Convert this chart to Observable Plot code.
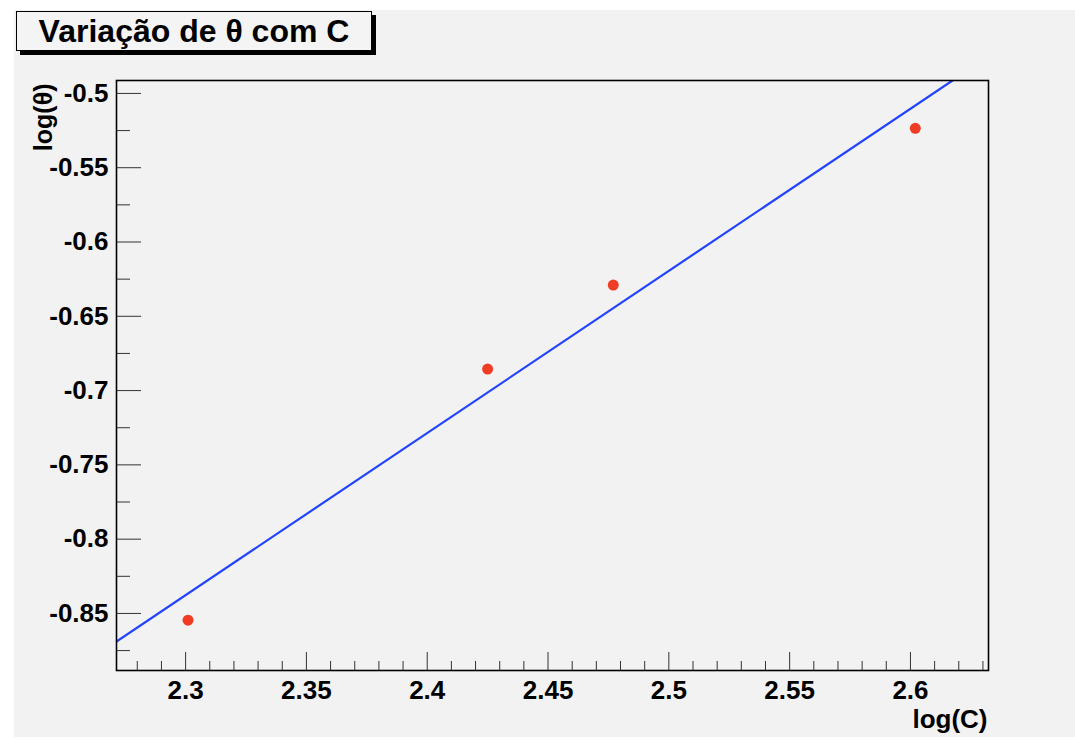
<!DOCTYPE html>
<html>
<head>
<meta charset="utf-8">
<script src="https://cdn.jsdelivr.net/npm/d3@7"></script>
<script src="https://cdn.jsdelivr.net/npm/@observablehq/plot@0.6"></script>
<style>
  html, body { margin: 0; padding: 0; background: #ffffff; }
  #wrap { position: relative; width: 1075px; height: 741px; overflow: hidden; background: #ffffff;
          font-family: "Liberation Sans", Arial, sans-serif; }
  #panel { position: absolute; left: 14px; top: 10px; width: 1061px; height: 727px; background: #f2f2f2; }
  #chart { position: absolute; left: 0; top: 0; }
  #title { position: absolute; left: 16px; top: 11px; width: 354px; height: 38px;
           border: 1.5px solid #000; background: #f4f4f4; box-shadow: 4px 4px 0 #000;
           font-weight: bold; font-size: 32px; line-height: 38px; text-align: center; color: #000;
           white-space: nowrap; }
</style>
</head>
<body>
<div id="wrap">
  <div id="panel"></div>
  <div id="chart"></div>
  <div id="title">Variação de θ com C</div>
</div>
<script>
// Data points
const logC = [2.301, 2.425, 2.477, 2.602];
const logTheta = [-0.8545, -0.6855, -0.6290, -0.5235];

// Fitted straight line, endpoints where it meets the frame
const fitX = [2.2714, 2.6174];
const fitY = [-0.8689, -0.4913];

// Axis ranges
const xDomain = [2.2714, 2.6323];
const yDomain = [-0.8884, -0.4913];

// Ticks
const xMajor = [2.3, 2.35, 2.4, 2.45, 2.5, 2.55, 2.6];
const xMinor = [2.28, 2.29, 2.31, 2.32, 2.33, 2.34, 2.36, 2.37, 2.38, 2.39, 2.41, 2.42, 2.43, 2.44,
                2.46, 2.47, 2.48, 2.49, 2.51, 2.52, 2.53, 2.54, 2.56, 2.57, 2.58, 2.59, 2.61, 2.62, 2.63];
const yMajor = [-0.5, -0.55, -0.6, -0.65, -0.7, -0.75, -0.8, -0.85];
const yMinor = [-0.525, -0.575, -0.625, -0.675, -0.725, -0.775, -0.825, -0.875];

const points = logC.map((x, i) => ({x, y: logTheta[i]}));
const fit = fitX.map((x, i) => ({x, y: fitY[i]}));

const W = 1075, H = 741;
const mL = 116, mR = 87, mT = 80, mB = 71;
const innerW = W - mL - mR, innerH = H - mT - mB;

const plot = Plot.plot({
  width: W,
  height: H,
  marginLeft: mL, marginRight: mR, marginTop: mT, marginBottom: mB,
  style: {background: "transparent", fontFamily: "'Liberation Sans', Arial, sans-serif", color: "#000"},
  x: {domain: xDomain},
  y: {domain: yDomain},
  marks: [
    // inward ticks
    Plot.ruleX(xMajor, {x: d => d, stroke: "#333", strokeWidth: 1, insetTop: innerH - 18}),
    Plot.ruleX(xMinor, {x: d => d, stroke: "#333", strokeWidth: 1, insetTop: innerH - 9}),
    Plot.ruleY(yMajor, {y: d => d, stroke: "#333", strokeWidth: 1, insetRight: innerW - 25}),
    Plot.ruleY(yMinor, {y: d => d, stroke: "#333", strokeWidth: 1, insetRight: innerW - 14}),
    Plot.axisX({ticks: xMajor, tickSize: 0, tickPadding: 10, tickFormat: d => String(d),
                fontSize: 26, fontWeight: "bold", label: null}),
    Plot.axisY({ticks: yMajor, tickSize: 0, tickPadding: 8, tickFormat: d => String(d),
                fontSize: 26, fontWeight: "bold", label: null}),
    Plot.line(fit, {x: "x", y: "y", stroke: "#2244ff", strokeWidth: 2.2, clip: true}),
    Plot.dot(points, {x: "x", y: "y", r: 5.5, fill: "#f03c24", stroke: "none"}),
    Plot.frame({stroke: "#000", strokeWidth: 1.6}),
    Plot.text(["log(C)"], {text: d => d, frameAnchor: "bottom-right", textAnchor: "end", lineAnchor: "middle",
                           dx: -1, dy: 49, fontSize: 26, fontWeight: "bold", fill: "#000"}),
    Plot.text(["log(θ)"], {text: d => d, frameAnchor: "top-left", textAnchor: "end", lineAnchor: "middle",
                           rotate: -90, dx: -73, dy: 3, fontSize: 25, fontWeight: "bold", fill: "#000"})
  ]
});
document.getElementById("chart").appendChild(plot);
</script>
</body>
</html>
